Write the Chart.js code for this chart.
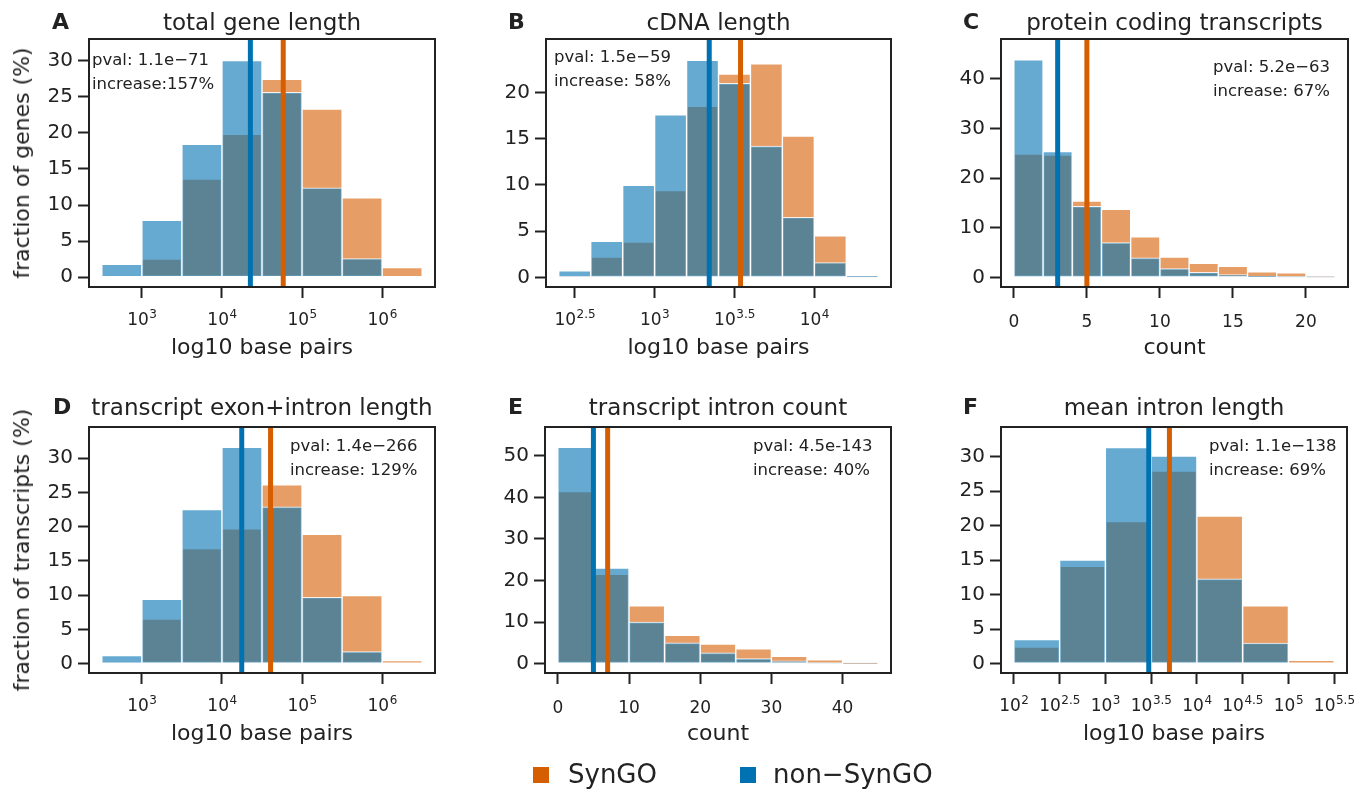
<!DOCTYPE html>
<html>
<head>
<meta charset="utf-8">
<script src="https://cdn.jsdelivr.net/npm/chart.js@4.4.0/dist/chart.umd.min.js"></script>
<style>
  body { margin: 0; background: #fff; width: 1368px; height: 791px; position: relative; overflow: hidden;
         font-family: "DejaVu Sans", sans-serif; color: #222; }
  canvas { position: absolute; }
  .t { position: absolute; white-space: nowrap; line-height: 1; }
  .sq { position: absolute; width: 16px; height: 16px; }
</style>
</head>
<body>
<script>
"use strict";
/**
 * Gene / transcript length histograms, SynGO vs non-SynGO.
 * Bar heights are % of genes (A-C) or transcripts (D-F) per bin.
 */

// bin edges (log10 bp or count)
let edgesA = [2.5, 3, 3.5, 4, 4.5, 5, 5.5, 6, 6.5];
let edgesB = [2.4, 2.6, 2.8, 3.0, 3.2, 3.4, 3.6, 3.8, 4.0, 4.2, 4.4];
let edgesC = [0, 2, 4, 6, 8, 10, 12, 14, 16, 18, 20, 22];
let edgesD = [2.5, 3, 3.5, 4, 4.5, 5, 5.5, 6, 6.5];
let edgesE = [0, 5, 10, 15, 20, 25, 30, 35, 40, 45];
let edgesF = [2, 2.5, 3, 3.5, 4, 4.5, 5, 5.5];

// SynGO bars
let synA = [0, 2.5, 13.6, 19.8, 27.4, 23.3, 11.0, 1.35];
let synB = [0.1, 2.2, 3.8, 9.4, 18.5, 22.0, 23.1, 15.3, 4.5, 0.05];
let synC = [24.8, 24.6, 15.35, 13.7, 8.15, 4.1, 2.8, 2.2, 1.1, 0.9, 0.05];
let synD = [0.35, 6.5, 16.8, 19.7, 26.1, 18.9, 9.95, 0.45];
let synE = [41.4, 21.5, 13.9, 6.8, 4.7, 3.6, 1.75, 0.9, 0.05];
let synF = [2.4, 14.1, 20.6, 27.9, 21.4, 8.4, 0.5];

// non-SynGO bars
let nonA = [1.8, 7.9, 18.4, 30.0, 25.6, 12.4, 2.6, 0];
let nonB = [0.7, 3.9, 9.95, 17.6, 23.5, 21.0, 14.2, 6.5, 1.6, 0.15];
let nonC = [43.8, 25.3, 14.3, 7.0, 3.9, 1.75, 1.0, 0.55, 0.2, 0.1, 0.1];
let nonD = [1.2, 9.4, 22.5, 31.6, 22.9, 9.7, 1.75, 0];
let nonE = [52.0, 23.0, 10.0, 5.0, 2.6, 1.2, 0.7, 0.2, 0.15];
let nonF = [3.5, 15.0, 31.3, 30.1, 12.3, 3.0, 0];

// medians [non-SynGO, SynGO]
let medA = [4.355, 4.765];
let medB = [3.342, 3.538];
let medC = [3, 5];
let medD = [4.247, 4.607];
let medE = [5, 7];
let medF = [3.474, 3.70];

// tick values
let xTicksA = [3, 4, 5, 6];
let xTicksB = [2.5, 3, 3.5, 4];
let xTicksC = [0, 5, 10, 15, 20];
let xTicksD = [3, 4, 5, 6];
let xTicksE = [0, 10, 20, 30, 40];
let xTicksF = [2, 2.5, 3, 3.5, 4, 4.5, 5, 5.5];
let yTicksA = [0, 5, 10, 15, 20, 25, 30];
let yTicksB = [0, 5, 10, 15, 20];
let yTicksC = [0, 10, 20, 30, 40];
let yTicksD = [0, 5, 10, 15, 20, 25, 30];
let yTicksE = [0, 10, 20, 30, 40, 50];
let yTicksF = [0, 5, 10, 15, 20, 25, 30];

let statA = ['pval: 1.1e\u221271', 'increase:157%'];
let statB = ['pval: 1.5e\u221259', 'increase: 58%'];
let statC = ['pval: 5.2e\u221263', 'increase: 67%'];
let statD = ['pval: 1.4e\u2212266', 'increase: 129%'];
let statE = ['pval: 4.5e-143', 'increase: 40%'];
let statF = ['pval: 1.1e\u2212138', 'increase: 69%'];

let ORANGE = '#D55E00';
let BLUE = '#0072B2';
let FONT = '"DejaVu Sans", sans-serif';
let INK = '#222';

let panels = [
  { letter: 'A', title: 'total gene length', edges: edgesA, syn: synA, non: nonA, med: medA,
    xt: xTicksA, yt: yTicksA, stat: statA, log: true, xr: [2.34, 6.66], yr: [-1.35, 33.0],
    canvas: [0, 0, 455, 380], box: [89, 39, 435, 287], statPos: [92, 66],
    xTitle: 'log10 base pairs', yTitle: 'fraction of genes (%)', letterX: 52 },
  { letter: 'B', title: 'cDNA length', edges: edgesB, syn: synB, non: nonB, med: medB,
    xt: xTicksB, yt: yTicksB, stat: statB, log: true, xr: [2.32, 4.48], yr: [-1.05, 25.8],
    canvas: [455, 0, 455, 380], box: [546, 39, 891, 287], statPos: [554, 63],
    xTitle: 'log10 base pairs', letterX: 508 },
  { letter: 'C', title: 'protein coding transcripts', edges: edgesC, syn: synC, non: nonC, med: medC,
    xt: xTicksC, yt: yTicksC, stat: statC, log: false, xr: [-0.88, 22.88], yr: [-1.95, 48.0],
    canvas: [910, 0, 458, 380], box: [1001, 39, 1348, 287], statPos: [1213, 73],
    xTitle: 'count', letterX: 963 },
  { letter: 'D', title: 'transcript exon+intron length', edges: edgesD, syn: synD, non: nonD, med: medD,
    xt: xTicksD, yt: yTicksD, stat: statD, log: true, xr: [2.34, 6.66], yr: [-1.36, 34.56],
    canvas: [0, 380, 455, 380], box: [89, 427, 435, 673], statPos: [290, 452],
    xTitle: 'log10 base pairs', yTitle: 'fraction of transcripts (%)', letterX: 53 },
  { letter: 'E', title: 'transcript intron count', edges: edgesE, syn: synE, non: nonE, med: medE,
    xt: xTicksE, yt: yTicksE, stat: statE, log: false, xr: [-1.8, 46.8], yr: [-2.24, 56.9],
    canvas: [455, 380, 455, 380], box: [545, 427, 891, 673], statPos: [753, 452],
    xTitle: 'count', letterX: 508 },
  { letter: 'F', title: 'mean intron length', edges: edgesF, syn: synF, non: nonF, med: medF,
    xt: xTicksF, yt: yTicksF, stat: statF, log: true, xr: [1.86, 5.64], yr: [-1.35, 34.3],
    canvas: [910, 380, 458, 380], box: [1001, 427, 1347, 673], statPos: [1209, 452],
    xTitle: 'log10 base pairs', letterX: 963 }
];

Chart.defaults.font.family = FONT;
Chart.defaults.color = INK;

function addText(txt, x, baseline, size, opts) {
  opts = opts || {};
  let d = document.createElement('div');
  d.className = 't';
  d.textContent = txt;
  d.style.fontSize = size + 'px';
  d.style.top = (baseline - 0.846 * size) + 'px';
  d.style.left = x + 'px';
  if (opts.bold) d.style.fontWeight = 'bold';
  if (opts.center) d.style.transform = 'translateX(-50%)';
  document.body.appendChild(d);
  return d;
}

function expLabel(v) {
  return Number.isInteger(v) ? String(v) : v.toFixed(1);
}

// median lines, frame and the x tick labels (with superscripts for log axes)
let decorPlugin = {
  id: 'decor',
  afterDatasetsDraw(chart, args, p) {
    let ctx = chart.ctx;
    let a = chart.chartArea;
    let xs = chart.scales.x;
    ctx.save();
    let cols = [BLUE, ORANGE];
    p.med.forEach(function (m, i) {
      let px = xs.getPixelForValue(m);
      ctx.strokeStyle = cols[i];
      ctx.lineWidth = 5;
      ctx.beginPath();
      ctx.moveTo(px, a.top);
      ctx.lineTo(px, a.bottom);
      ctx.stroke();
    });
    ctx.strokeStyle = INK;
    ctx.lineWidth = 2;
    ctx.strokeRect(a.left, a.top, a.right - a.left, a.bottom - a.top);
    ctx.fillStyle = INK;
    ctx.textBaseline = 'alphabetic';
    ctx.textAlign = 'left';
    xs.ticks.forEach(function (t) {
      let px = xs.getPixelForValue(t.value);
      if (p.log) {
        ctx.font = '17px ' + FONT;
        let wb = ctx.measureText('10').width;
        let ex = expLabel(t.value);
        ctx.font = '12px ' + FONT;
        let we = ctx.measureText(ex).width;
        let x0 = px - (wb + we) / 2;
        ctx.font = '17px ' + FONT;
        ctx.fillText('10', x0, a.bottom + 38);
        ctx.font = '12px ' + FONT;
        ctx.fillText(ex, x0 + wb + 0.5, a.bottom + 31);
      } else {
        ctx.font = '17px ' + FONT;
        ctx.textAlign = 'center';
        ctx.fillText(String(t.value), px, a.bottom + 40);
        ctx.textAlign = 'left';
      }
    });
    ctx.restore();
  }
};

panels.forEach(function (p) {
  let cv = document.createElement('canvas');
  let [cx, cy, cw, ch] = p.canvas;
  cv.width = cw;
  cv.height = ch;
  cv.style.left = cx + 'px';
  cv.style.top = cy + 'px';
  cv.style.width = cw + 'px';
  cv.style.height = ch + 'px';
  document.body.appendChild(cv);

  let centers = [];
  for (let i = 0; i < p.edges.length - 1; i++) centers.push((p.edges[i] + p.edges[i + 1]) / 2);
  let bar = {
    type: 'bar', borderColor: 'rgba(255,255,255,0.85)', borderWidth: 1, borderSkipped: false,
    barPercentage: 1, categoryPercentage: 1, grouped: false
  };

  new Chart(cv, {
    type: 'bar',
    data: {
      datasets: [
        Object.assign({}, bar, { label: 'non\u2212SynGO', order: 0, backgroundColor: 'rgba(0,114,178,0.6)',
          data: centers.map((c, i) => ({ x: c, y: p.non[i] })) }),
        Object.assign({}, bar, { label: 'SynGO', order: 1, backgroundColor: 'rgba(213,94,0,0.6)',
          data: centers.map((c, i) => ({ x: c, y: p.syn[i] })) })
      ]
    },
    options: {
      responsive: false,
      animation: false,
      devicePixelRatio: 1,
      layout: { padding: { top: p.box[1] - cy, right: cx + cw - p.box[2], left: 0, bottom: 0 } },
      plugins: { legend: { display: false }, tooltip: { enabled: false }, decor: p },
      scales: {
        x: {
          type: 'linear', min: p.xr[0], max: p.xr[1], offset: false,
          grid: { offset: false, drawOnChartArea: false, tickLength: 11, tickWidth: 2, tickColor: INK },
          border: { display: false },
          ticks: { display: false },
          afterBuildTicks: s => { s.ticks = p.xt.map(v => ({ value: v })); },
          afterFit: s => { s.height = cy + ch - p.box[3]; s.paddingLeft = 0; s.paddingRight = 0; }
        },
        y: {
          min: p.yr[0], max: p.yr[1],
          grid: { drawOnChartArea: false, tickLength: 11, tickWidth: 2, tickColor: INK },
          border: { display: false },
          ticks: { font: { size: 20 }, color: INK, padding: 5 },
          afterBuildTicks: s => { s.ticks = p.yt.map(v => ({ value: v })); },
          afterFit: s => { s.width = p.box[0] - cx; s.paddingTop = 0; s.paddingBottom = 0; }
        }
      }
    },
    plugins: [decorPlugin]
  });

  let mid = (p.box[0] + p.box[2]) / 2;
  addText(p.letter, p.letterX, p.box[1] - 9 - (cy ? 3 : 0), 22, { bold: true });
  addText(p.title, mid, p.box[1] - 9 - (cy ? 3 : 0), 23, { center: true });
  addText(p.xTitle, mid, p.box[3] + 68, 22, { center: true });
  addText(p.stat[0], p.statPos[0], p.statPos[1], 16.5);
  addText(p.stat[1], p.statPos[0], p.statPos[1] + 23.5, 16.5);
  if (p.yTitle) {
    let d = addText(p.yTitle, 22, (p.box[1] + p.box[3]) / 2, 22);
    d.style.top = ((p.box[1] + p.box[3]) / 2) + 'px';
    d.style.transform = 'translate(-50%,-50%) rotate(-90deg)';
  }
});

// legend
let legendItems = [['SynGO', ORANGE, 533, 568], ['non\u2212SynGO', BLUE, 740, 773]];
legendItems.forEach(function (it) {
  let sq = document.createElement('div');
  sq.className = 'sq';
  sq.style.background = it[1];
  sq.style.left = it[2] + 'px';
  sq.style.top = '767px';
  document.body.appendChild(sq);
  addText(it[0], it[3], 783, 26);
});
</script>
</body>
</html>
